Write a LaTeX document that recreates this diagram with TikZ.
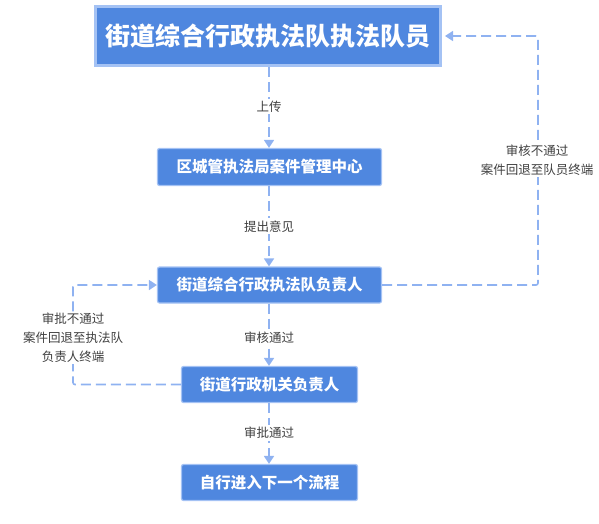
\documentclass[tikz,border=0pt]{standalone}
\usepackage{fontspec}
\newfontfamily\cjk{Noto Sans CJK SC}
\usetikzlibrary{arrows.meta}
\definecolor{boxfill}{HTML}{4F87DF}
\definecolor{boxedge}{HTML}{A4C2F4}
\definecolor{linec}{HTML}{8FB2F1}
\definecolor{txtc}{HTML}{404040}
\tikzset{
  mainbox/.style={rectangle, fill=boxfill, draw=boxedge, line width=3pt, minimum width=345pt, minimum height=59pt, inner sep=0pt, text=white, font=\cjk\bfseries\fontsize{25}{30}\selectfont},
  stepbox/.style={rectangle, rounded corners=2pt, fill=boxfill, draw=boxedge, line width=1.2pt, inner sep=0pt, text=white, font=\cjk\bfseries\fontsize{15.5}{19}\selectfont},
  conn/.style={draw=linec, line width=1.6pt, dash pattern=on 10pt off 5pt, -{Triangle[width=10pt,length=8pt]}},
  lbl/.style={fill=white, text=txtc, inner sep=2pt, align=center, font=\cjk\fontsize{12.5}{19}\selectfont}
}
\begin{document}
\begin{tikzpicture}[x=1pt,y=-1pt]
\useasboundingbox (0,0) rectangle (599,523);
\node[mainbox] (b1) at (268,36) {街道综合行政执法队执法队员};
\node[stepbox, minimum width=224pt, minimum height=37pt] (b2) at (269.5,167) {区城管执法局案件管理中心};
\node[stepbox, minimum width=224pt, minimum height=36pt] (b3) at (269.5,285) {街道综合行政执法队负责人};
\node[stepbox, minimum width=176pt, minimum height=36pt] (b4) at (269.5,384.5) {街道行政机关负责人};
\node[stepbox, minimum width=176pt, minimum height=36pt] (b5) at (269.5,482.5) {自行进入下一个流程};
\coordinate (r) at (538,0);
\coordinate (l) at (73,0);
\draw[conn] (b1.south -| 269,0) -- (b2.north -| 269,0) node[lbl, pos=0.49] {上传};
\draw[conn] (b2.south -| 269,0) -- (b3.north -| 269,0) node[lbl, midway] {提出意见};
\draw[conn] (b3.south -| 269,0) -- (b4.north -| 269,0) node[lbl, pos=0.54] {审核通过};
\draw[conn] (b4.south -| 269,0) -- (b5.north -| 269,0) node[lbl, pos=0.49] {审批通过};
\draw[conn, rounded corners=2pt] (b3.east) -- (b3.east -| r) -- (r |- b1.east) -- ([xshift=3pt]b1.east);
\node[lbl] (rl) at (537,160) {审核不通过\\案件回退至队员终端};
\draw[conn, rounded corners=2pt] (b4.west) -- (b4.west -| l) -- (l |- b3.west) -- (b3.west);
\node[lbl, inner sep=1pt] (ll) at (73,338) {审批不通过\\案件回退至执法队\\负责人终端};
\end{tikzpicture}
\end{document}
